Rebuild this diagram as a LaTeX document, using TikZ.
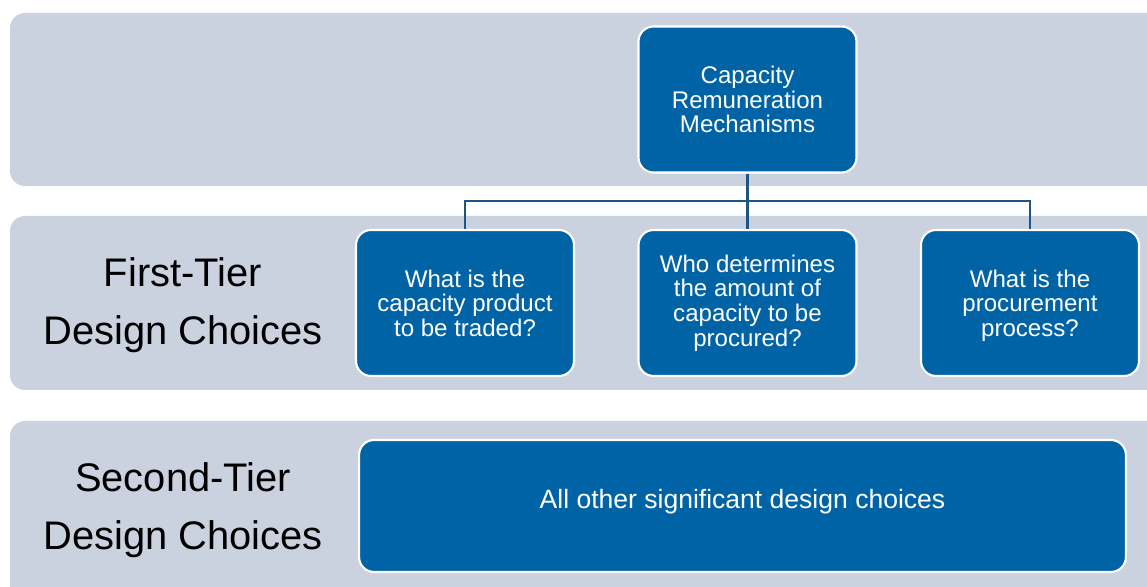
\documentclass[tikz,border=0pt]{standalone}
\usepackage{fontspec}
\setmainfont{Liberation Sans}
\usetikzlibrary{positioning}
\definecolor{bandgray}{HTML}{CBD2DF}
\definecolor{boxblue}{HTML}{0063A6}
\definecolor{linkblue}{HTML}{1F5585}

\begin{document}
\begin{tikzpicture}[x=0.02cm,y=-0.02cm,
    band/.style={fill=bandgray, rounded corners=0.3cm},
    choice/.style={draw=white, line width=1.2pt, fill=boxblue, rounded corners=0.3cm,
      text=white, align=center, inner sep=0pt,
      minimum width=4.36cm, minimum height=2.92cm,
      font=\fontsize{13.7}{14}\selectfont},
    tier/.style={align=center, font=\fontsize{22.7}{33}\selectfont},
    link/.style={draw=linkblue, line width=1.4pt}]
      \useasboundingbox (0,0) rectangle (1147,587);

      % Define the background bands
      \fill[band] (10,13) rectangle (1200,186);
      \fill[band] (10,216) rectangle (1200,390);
      \fill[band] (10,421) rectangle (1200,620);

      % Define the nodes of the first tier
      \node[choice] (crm) at (747.5,99.5) {Capacity\\Remuneration\\Mechanisms};
      \node[choice] (product) at (465,303) {What is the\\capacity product\\to be traded?};
      \node[choice] (amount) at (747.5,303) {Who determines\\the amount of\\capacity to be\\procured?};
      \node[choice, text depth=0pt] (process) at (1030,303) {What is the\\procurement\\process?};
      \coordinate (bus) at (747.5,201);

      % Define the node of the second tier
      \node[choice, minimum width=15.34cm, minimum height=2.64cm, text depth=0.3cm,
        font=\fontsize{15.1}{15}\selectfont] (other) at (742.5,506) {All other significant design choices};

      % Define the tier labels
      \node[tier] (first) at (183,305) {First-Tier\\Design Choices};
      \node[tier] (second) at (183,510) {Second-Tier\\Design Choices};

      % Draw the connectors
      \draw[link] (crm.south) -- (amount.north);
      \draw[link] (product.north) |- (bus) -| (process.north);
\end{tikzpicture}
\end{document}
